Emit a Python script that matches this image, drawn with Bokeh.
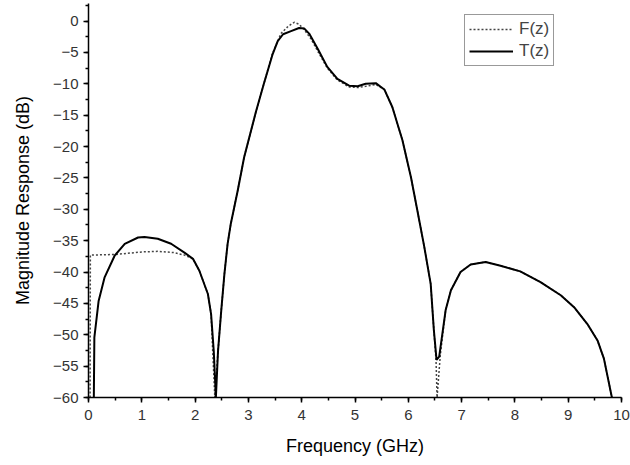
from bokeh.plotting import figure
from bokeh.models import Range1d, SingleIntervalTicker, Legend, LegendItem
from bokeh.embed import file_html
from bokeh.resources import INLINE

# T(z) - solid curve
t_freq = [0.10, 0.11, 0.19, 0.30, 0.49, 0.68, 0.93, 1.05, 1.30, 1.55, 1.80, 1.96, 2.08, 2.24, 2.30, 2.35, 2.39,
          2.43, 2.49, 2.55, 2.61, 2.67, 2.80, 2.92, 3.14, 3.29, 3.45, 3.55, 3.65, 3.80, 3.95, 4.05, 4.14, 4.30,
          4.48, 4.67, 4.89, 5.05, 5.20, 5.39, 5.55, 5.70, 5.89, 6.05, 6.17, 6.30, 6.42, 6.48, 6.53, 6.58,
          6.70, 6.80, 6.98, 7.17, 7.45, 7.73, 8.10, 8.48, 8.86, 9.11, 9.36, 9.55, 9.67, 9.82]
t_db = [-60.0, -50.4, -44.6, -40.9, -37.4, -35.5, -34.5, -34.4, -34.7, -35.5, -36.9, -37.9, -39.8, -43.5, -46.7, -52.6, -60.0,
        -52.6, -46.2, -40.3, -35.5, -32.3, -27.0, -21.7, -14.5, -10.0, -5.4, -3.2, -2.1, -1.6, -1.1, -1.2, -2.0, -4.4,
        -7.3, -9.2, -10.3, -10.4, -10.0, -9.9, -10.9, -13.7, -19.0, -24.9, -30.2, -36.0, -41.9, -49.3, -54.0, -53.5,
        -46.1, -42.9, -40.0, -38.8, -38.4, -39.0, -39.9, -41.6, -43.7, -45.6, -48.3, -50.9, -53.8, -60.0]

# F(z) - dotted curve
f_freq = [0.03, 0.035, 0.50, 1.00, 1.30, 1.60, 1.80, 1.96, 2.08, 2.24, 2.30, 2.33, 2.37,
          2.43, 2.49, 2.55, 2.61, 2.67, 2.80, 2.92, 3.14, 3.29, 3.45, 3.61, 3.75, 3.86, 3.95, 4.05, 4.17, 4.30,
          4.48, 4.67, 4.89, 5.05, 5.20, 5.39, 5.55, 5.70, 5.89, 6.05, 6.17, 6.30, 6.42, 6.48, 6.52, 6.54,
          6.60, 6.70, 6.80, 6.98, 7.17, 7.45, 7.73, 8.10, 8.48, 8.86, 9.11, 9.36, 9.55, 9.67, 9.82]
f_db = [-60.0, -37.3, -37.2, -36.8, -36.7, -36.9, -37.3, -37.9, -39.8, -43.5, -46.7, -52.6, -60.0,
        -52.6, -46.2, -40.3, -35.5, -32.3, -27.0, -21.7, -14.5, -10.0, -5.2, -2.0, -0.8, -0.2, -0.5, -1.4, -2.8, -4.8,
        -7.5, -9.4, -10.5, -10.6, -10.4, -10.1, -10.9, -13.7, -19.0, -24.9, -30.2, -36.0, -41.9, -49.3, -54.0, -60.0,
        -53.3, -46.1, -42.9, -40.0, -38.8, -38.4, -39.0, -39.9, -41.6, -43.7, -45.6, -48.3, -50.9, -53.8, -60.0]

FONT = "Liberation Sans"

p = figure(width=630, height=465, output_backend="svg", toolbar_location=None,
           x_range=Range1d(0, 10), y_range=Range1d(-60, 2.8),
           min_border_left=88, min_border_right=9, min_border_top=3, min_border_bottom=68)
p.outline_line_color = None
p.xgrid.visible = False
p.ygrid.visible = False
p.background_fill_color = "white"
p.border_fill_color = "white"

p.xaxis.ticker = SingleIntervalTicker(interval=1, num_minor_ticks=2)
p.yaxis.ticker = SingleIntervalTicker(interval=5, num_minor_ticks=2)

for ax in (p.xaxis, p.yaxis):
    ax.axis_line_width = 1.5
    ax.axis_line_color = "black"
    ax.major_tick_line_color = "black"
    ax.major_tick_line_width = 1.5
    ax.minor_tick_line_color = "black"
    ax.minor_tick_line_width = 1.5
    ax.major_tick_in = 0
    ax.major_tick_out = 5
    ax.minor_tick_in = 0
    ax.minor_tick_out = 3
    ax.major_label_text_font = FONT
    ax.major_label_text_font_size = "15px"
    ax.major_label_text_color = "#333333"
    ax.axis_label_text_font = FONT
    ax.axis_label_text_font_size = "18px"
    ax.axis_label_text_font_style = "normal"
    ax.axis_label_text_color = "black"

p.xaxis.axis_label = "Frequency (GHz)"
p.yaxis.axis_label = "Magnitude Response (dB)"
p.xaxis.major_label_standoff = 7
p.yaxis.major_label_standoff = 5
p.xaxis.axis_label_standoff = 13
p.yaxis.axis_label_standoff = 17

rf = p.line(f_freq, f_db, line_color="#444444", line_width=1.5, line_dash="2 2")
rt = p.line(t_freq, t_db, line_color="black", line_width=2)

legend = Legend(items=[LegendItem(label="F(z)", renderers=[rf]),
                       LegendItem(label="T(z)", renderers=[rt])],
                location=(376, 331))
legend.label_text_font = FONT
legend.label_text_font_size = "17px"
legend.glyph_width = 44
legend.glyph_height = 20
legend.label_height = 20
legend.label_standoff = 6
legend.spacing = 2
legend.padding = 4
legend.margin = 0
legend.border_line_color = "#333333"
legend.border_line_width = 1.5
legend.background_fill_alpha = 1.0
p.add_layout(legend, "center")

open("out.html", "w").write(file_html(p, INLINE))
